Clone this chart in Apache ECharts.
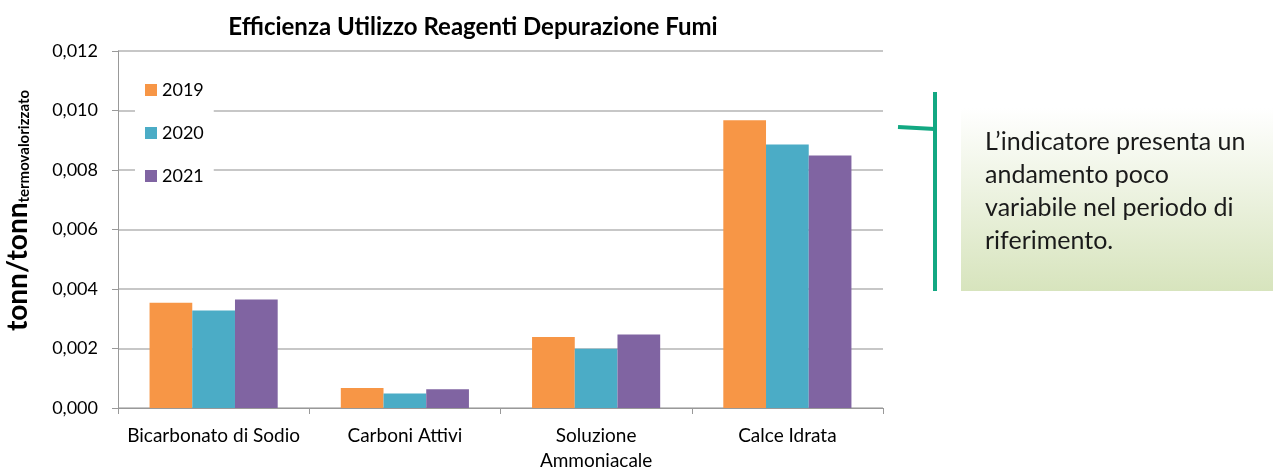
<!DOCTYPE html>
<html>
<head>
<meta charset="utf-8">
<script src="https://cdn.jsdelivr.net/npm/echarts@6/dist/echarts.min.js"></script>
<style>
    html, body { margin: 0; padding: 0; background: #fff; }
    #chart { width: 1273px; height: 470px; }
</style>
</head>
<body>
<div id="chart"></div>
<script>
    var categories = ['Bicarbonato di Sodio', 'Carboni Attivi', 'Soluzione\nAmmoniacale', 'Calce Idrata'];
    var years = ['2019', '2020', '2021'];
    var values2019 = [0.00354, 0.00067, 0.00239, 0.00967];
    var values2020 = [0.00328, 0.00049, 0.00199, 0.00886];
    var values2021 = [0.00365, 0.00063, 0.00247, 0.00849];
    var colors = ['#F79646', '#4BACC6', '#8064A2'];
    var noteLines = ['L\u2019indicatore presenta un', 'andamento poco', 'variabile nel periodo di', 'riferimento.'];

    var font = 'Lato';
    var chart = echarts.init(document.getElementById('chart'), null, {renderer: 'canvas'});

    var allValues = [values2019, values2020, values2021];
    var series = [];
    for (var i = 0; i < years.length; i++) {
        series.push({
            name: years[i],
            type: 'bar',
            data: allValues[i],
            itemStyle: {color: colors[i]},
            barGap: '0%',
            barCategoryGap: '33%'
        });
    }

    var option = {
        animation: false,
        textStyle: {fontFamily: font},
        title: {
            text: 'Efficienza Utilizzo Reagenti Depurazione Fumi',
            left: 468,
            textAlign: 'center',
            top: 10,
            textStyle: {fontFamily: font, fontSize: 24, fontWeight: 'bold', color: '#000'}
        },
        legend: {
            data: years,
            orient: 'vertical',
            left: 135,
            top: 71,
            padding: 10,
            itemGap: 25,
            itemWidth: 12,
            itemHeight: 12,
            icon: 'rect',
            backgroundColor: '#fff',
            textStyle: {fontFamily: font, fontSize: 18, color: '#000', lineHeight: 18}
        },
        grid: {left: 118, right: 390, top: 51, bottom: 62, containLabel: false, outerBoundsMode: 'none'},
        xAxis: {
            type: 'category',
            data: categories,
            axisLine: {lineStyle: {color: '#999', width: 1}},
            axisTick: {show: true, length: 6, lineStyle: {color: '#999'}},
            axisLabel: {fontFamily: font, fontSize: 19, color: '#000', margin: 15, lineHeight: 25, interval: 0}
        },
        yAxis: {
            type: 'value',
            min: 0,
            max: 0.012,
            interval: 0.002,
            axisLine: {show: true, lineStyle: {color: '#999'}},
            axisTick: {show: true, length: 6, lineStyle: {color: '#999'}},
            splitLine: {lineStyle: {color: '#b5b5b5', width: 1.5}},
            axisLabel: {
                fontFamily: font, fontSize: 18, color: '#000', margin: 20,
                formatter: function (v) { return v.toFixed(3).replace('.', ','); }
            },
            name: '{a|tonn/tonn}{b|termovalorizzato}',
            nameLocation: 'middle',
            nameGap: 86,
            nameTextStyle: {
                rich: {
                    a: {fontFamily: font, fontSize: 28, fontWeight: 'bold', color: '#000', padding: [0, 0, 0, 38]},
                    b: {fontFamily: font, fontSize: 15, fontWeight: 'bold', color: '#000', verticalAlign: 'bottom', padding: [14, 0, 0, 0]}
                }
            }
        },
        graphic: [
            {
                type: 'rect',
                shape: {x: 961, y: 108, width: 312, height: 183},
                style: {
                    fill: new echarts.graphic.LinearGradient(0, 0, 0, 1, [
                        {offset: 0, color: '#ffffff'},
                        {offset: 1, color: '#d7e4bd'}
                    ])
                }
            },
            {
                type: 'text',
                left: 985,
                top: 125,
                style: {
                    text: noteLines.join('\n'),
                    fontFamily: font,
                    fontSize: 25,
                    lineHeight: 33,
                    fill: '#1a1a1a'
                }
            },
            {
                type: 'line',
                shape: {x1: 935, y1: 92, x2: 935, y2: 291},
                style: {stroke: '#12a882', lineWidth: 4}
            },
            {
                type: 'line',
                shape: {x1: 898, y1: 127, x2: 935, y2: 129},
                style: {stroke: '#12a882', lineWidth: 4}
            }
        ],
        series: series
    };
    chart.setOption(option);
</script>
</body>
</html>
